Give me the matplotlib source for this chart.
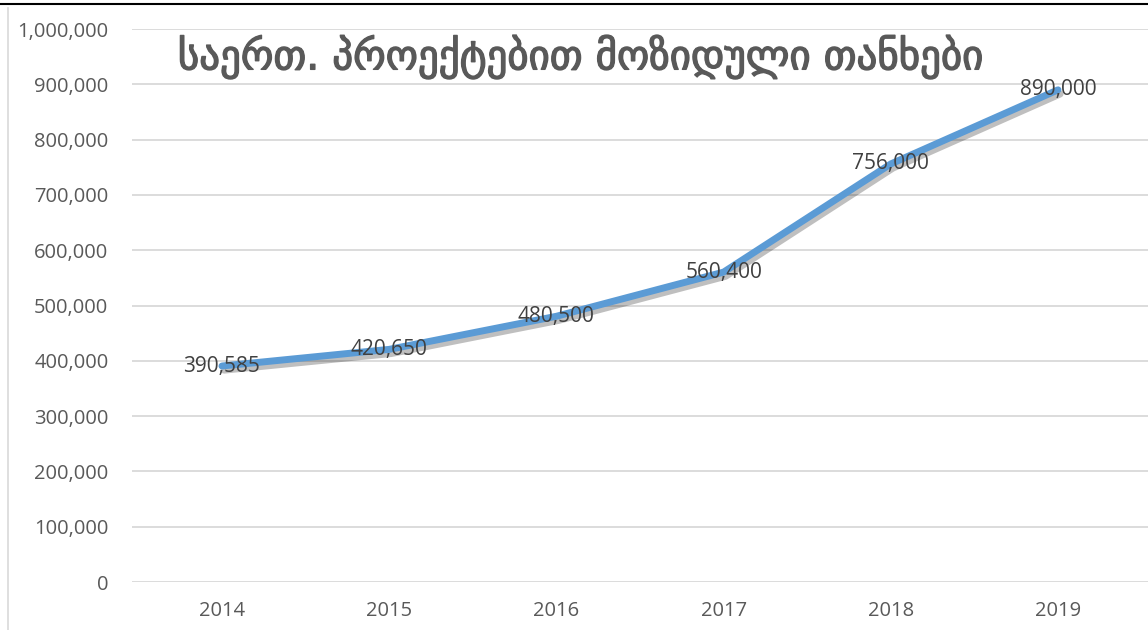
import matplotlib.pyplot as plt
import matplotlib.patheffects as pe
from matplotlib.lines import Line2D

years = ["2014", "2015", "2016", "2017", "2018", "2019"]
values = [390585, 420650, 480500, 560400, 756000, 890000]
title = "საერთ. პროექტებით მოზიდული თანხები"

plt.rcParams["font.family"] = ["Open Sans", "DejaVu Sans"]

fig = plt.figure(figsize=(11.48, 6.30), dpi=100)
W, H = 1148, 630
ax = fig.add_axes([132 / W, (H - 582) / H, (1148 - 132) / W, (582 - 29) / H])

x = list(range(len(years)))
ax.plot(x, values, color="#5B9BD5", lw=5, solid_capstyle="round",
        path_effects=[pe.SimpleLineShadow(offset=(1.5, -3), shadow_color="black", alpha=0.25),
                      pe.Normal()], zorder=3)

for xi, v in zip(x, values):
    ax.text(xi, v, f"{v:,}", ha="center", va="center", fontsize=15, color="#404040", zorder=4)

ax.set_ylim(0, 1000000)
ax.set_xlim(-0.538, 5.538)
ax.set_yticks(range(0, 1000001, 100000))
ax.set_yticklabels([f"{t:,}" for t in range(0, 1000001, 100000)])
ax.set_xticks(x)
ax.set_xticklabels(years)
ax.tick_params(axis="both", length=0, labelsize=14.5, labelcolor="#595959")
ax.tick_params(axis="y", pad=17)
ax.tick_params(axis="x", pad=14)
ax.grid(axis="y", color="#D9D9D9", lw=1.3)
ax.set_axisbelow(True)
for s in ax.spines.values():
    s.set_visible(False)

fig.text(581 / W, 1 - 57 / H, title, ha="center", va="center", fontsize=29.5,
         color="#595959", family="DejaVu Sans",
         path_effects=[pe.withStroke(linewidth=1.0, foreground="#595959")])

fig.add_artist(Line2D([0, 1], [1 - 4 / H, 1 - 4 / H], color="black", lw=1.5))
fig.add_artist(Line2D([8 / W, 8 / W], [0, 1 - 8 / H], color="#D9D9D9", lw=1.2))

fig.savefig("out.png", dpi=100)
